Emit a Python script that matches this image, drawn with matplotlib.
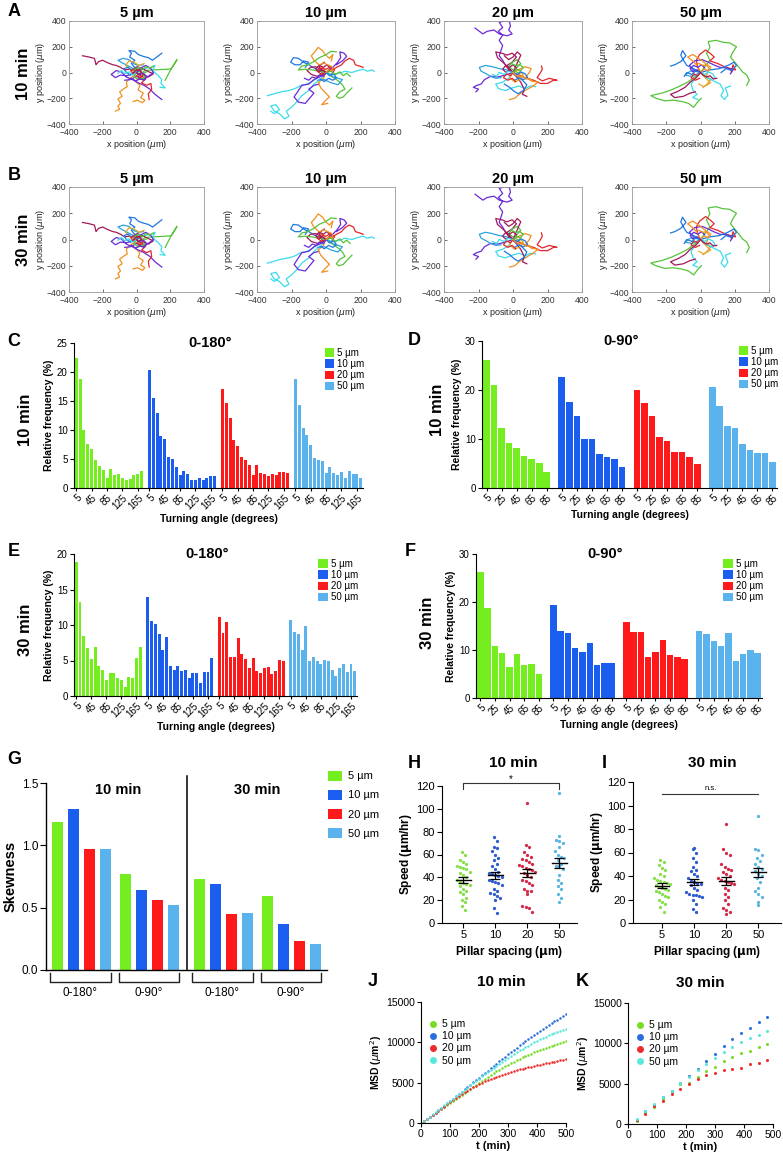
import numpy as np
import matplotlib
matplotlib.use("Agg")
import matplotlib.pyplot as plt
from matplotlib.patches import Patch
from matplotlib.lines import Line2D
import matplotlib.transforms as mtrans

plt.rcParams['font.family'] = ['Liberation Sans', 'DejaVu Sans']
plt.rcParams['axes.linewidth'] = 0.8

W, H = 783, 1156
fig = plt.figure(figsize=(W / 100, H / 100), dpi=100)

# ---------------- data ----------------
spacings = ['5 µm', '10 µm', '20 µm', '50 µm']
bar_cols = ['#74ee1f', '#1a5def', '#fe1a1a', '#5ab3ec']

# trajectories (µm), each track starts at origin
c_mar, c_blu, c_grn, c_org, c_pur, c_cya, c_red, c_gld, c_sky = (
    '#a3195b', '#1f77e0', '#55c43a', '#f0901e', '#6a2bd9', '#3adceb', '#e3262a', '#e0a82e', '#2aa4de')

tracks_5 = [
    [(0,0),(-20,15),(-45,25),(-70,20),(-95,40),(-120,55),(-140,60),(-170,75),(-200,95),(-225,85),(-240,60),(-245,90),(-250,110),(-280,120),(-320,130)],
    [(0,0),(10,25),(-15,45),(-30,70),(-10,95),(-40,120),(-30,150),(-45,170),(-10,165),(10,140),(40,125),(70,115),(95,95),(125,125),(150,150)],
    [(0,0),(25,-10),(50,15),(90,20),(130,22),(170,25),(205,28),(240,100),(222,60),(205,28),(190,-10),(170,-60)],
    [(0,0),(-15,-25),(-40,-45),(-60,-75),(-55,-110),(-80,-130),(-100,-150),(-85,-185),(-110,-205),(-95,-240),(-110,-260),(-100,-285),(-125,-300)],
    [(0,0),(15,-35),(-5,-70),(20,-100),(10,-135),(40,-160),(25,-195),(50,-215),(35,-235),(5,-215),(-20,-225)],
    [(0,0),(-30,-15),(-60,-25),(-95,-20),(-125,-40),(-150,-15),(-120,15),(-90,5),(-60,-35),(-25,-55),(10,-80),(45,-100),(80,-130),(110,-170),(150,-210)],
    [(0,0),(30,20),(60,35),(90,40),(110,55),(95,15),(125,-20),(150,-55),(145,-85),(170,-120),(140,-115)],
    [(0,0),(25,-25),(55,-50),(30,-80),(60,-100),(85,-85),(90,-130),(70,-165),(75,-210)],
    [(0,0),(-25,25),(5,45),(35,30),(65,10),(100,-10),(70,-35),(40,-20),(15,-45)],
    [(0,0),(-25,35),(-55,55),(-85,75),(-110,95),(-80,110),(-45,100),(-20,70),(10,55),(40,60)],
    [(0,0),(25,35),(55,55),(85,30),(100,0),(75,-25),(40,-55),(0,-30),(-35,-55),(-70,-60)],
    [(0,0),(-35,20),(-65,55),(-45,90),(-15,80),(15,55),(45,70)],
    [(0,0),(-15,-35),(15,-55),(50,-40),(35,-10),(60,5)],
    [(0,0),(20,20),(-5,35),(-30,20),(-50,40),(-75,30),(-60,0),(-35,-20),(-10,5)],
    [(0,0),(-20,-10),(-35,15),(-10,30),(20,10),(40,-15),(25,-40),(0,-25)],
    [(0,0),(15,-20),(40,-5),(60,-30),(45,-60),(20,-50),(-5,-65),(-30,-45)],
    [(0,0),(-10,25),(15,40),(35,20),(55,45),(80,35),(100,50)],
    [(0,0),(-25,-20),(-45,5),(-70,-10),(-90,15),(-110,-5)],
    [(0,0),(10,-15),(30,0),(20,25),(-5,15),(-20,-5)],
]
colors_5 = [c_mar, c_blu, c_grn, c_org, c_org, c_pur, c_cya, c_red, c_mar, c_sky, c_pur, c_gld, c_grn,
            c_blu, c_red, c_pur, c_grn, c_cya, c_mar]

tracks_10 = [
    [(0,0),(-40,-30),(-75,-65),(-110,-90),(-145,-100),(-180,-125),(-215,-140),(-260,-150),(-300,-165),(-340,-180)],
    [(0,0),(40,-15),(80,-5),(110,10),(150,0),(185,15),(215,25),(240,10),(265,20),(280,10)],
    [(0,0),(-30,-50),(-70,-90),(-100,-140),(-140,-180),(-170,-230),(-200,-270),(-230,-300),(-215,-340),(-240,-360),(-270,-320),(-300,-300),(-320,-260),(-290,-250),(-270,-290),(-300,-320),(-320,-300)],
    [(0,0),(-30,-30),(-70,-55),(-100,-90),(-140,-100),(-160,-140),(-185,-190),(-160,-230),(-120,-240),(-95,-200),(-70,-160),(-100,-130),(-70,-100),(-40,-90)],
    [(0,0),(-35,15),(-70,35),(-100,60),(-130,80),(-160,110),(-190,115),(-205,80),(-180,60),(-150,60),(-130,90),(-100,80),(-120,40)],
    [(0,0),(-15,35),(-45,65),(-70,95),(-85,130),(-65,160),(-45,195),(-20,170),(-5,140),(20,110),(40,140),(30,90)],
    [(0,0),(25,15),(55,35),(90,60),(110,90),(135,110),(160,95),(170,60),(195,50),(215,40)],
    [(0,0),(25,-25),(50,-45),(75,-70),(95,-95),(110,-130),(80,-150),(60,-185),(75,-200),(100,-190),(120,-160),(150,-120)],
    [(0,0),(-15,-45),(-45,-80),(-30,-120),(-5,-155),(20,-190),(-5,-220),(-25,-250),(10,-240)],
    [(0,0),(-30,25),(-60,45),(-90,40),(-110,15),(-85,-15),(-50,-30),(-20,-10),(-40,50),(-10,80)],
    [(0,0),(-40,10),(-80,20),(-120,25),(-160,20),(-140,50),(-105,60),(-70,85),(-40,115),(-5,135),(30,165),(60,160)],
    [(0,0),(35,35),(65,75),(85,115),(80,160),(105,150),(120,125),(95,90),(60,60)],
    [(0,0),(45,-35),(95,-55),(70,-95),(30,-80),(-10,-55),(-50,-60)],
    [(0,0),(-20,20),(-45,5),(-60,30),(-40,55),(-15,40),(5,60),(25,35),(10,10)],
    [(0,0),(20,-25),(45,-10),(60,-40),(40,-60),(15,-45),(-10,-70),(-35,-50)],
    [(0,0),(-25,-15),(-50,10),(-30,35),(0,25),(25,45),(50,20),(35,-5)],
    [(0,0),(30,10),(55,-15),(80,5),(100,-25),(120,-5),(140,-30)],
    [(0,0),(-15,-30),(-40,-20),(-55,-45),(-80,-35),(-100,-60),(-125,-45)],
    [(0,0),(15,20),(40,15),(35,45),(10,60),(-15,75),(-35,60)],
]
colors_10 = [c_cya, c_cya, c_cya, c_pur, c_blu, c_org, c_red, c_grn, c_org, c_mar, c_grn, c_pur, c_sky,
             c_mar, c_blu, c_red, c_grn, c_pur, c_org]

tracks_20 = [
    [(0,0),(-20,30),(-45,60),(-60,95),(-80,130),(-70,170),(-60,210),(-80,250),(-60,290),(-85,320),(-60,350),(-80,390),(-50,400),(-20,395),(-15,360),(-25,330),(-5,300),(-35,285),(-80,300),(-110,330),(-150,320),(-175,300),(-195,320),(-220,345)],
    [(0,0),(-45,-20),(-90,-35),(-130,-30),(-165,-55),(-185,-90),(-210,-100),(-230,-115),(-200,-130),(-215,-150)],
    [(0,0),(35,-20),(75,-45),(120,-60),(160,-85),(200,-85),(235,-60),(255,-60),(210,-45),(170,-65),(140,-40),(155,-10),(170,25),(165,50)],
    [(0,0),(-35,20),(-80,30),(-120,45),(-160,55),(-195,40),(-185,10),(-155,-10),(-130,-30),(-100,-45),(-70,-40)],
    [(0,0),(-25,-45),(-60,-75),(-100,-90),(-85,-125),(-45,-140),(-5,-120),(35,-105),(70,-125),(100,-105),(130,-110)],
    [(0,0),(35,25),(70,45),(105,30),(95,0),(75,-35),(105,-65),(145,-75),(110,-110),(70,-140),(35,-170),(10,-200),(-20,-210)],
    [(0,0),(-25,35),(-55,75),(-90,115),(-100,160),(-65,150),(-35,135),(-5,150),(20,120),(-5,80),(-40,50),(-20,15),(15,-25),(45,-75),(65,-130),(55,-170),(80,-185)],
    [(0,0),(20,35),(45,70),(25,100),(-5,80),(-25,45),(5,15),(40,-10)],
    [(0,0),(25,-30),(55,-60),(80,-95),(65,-135),(30,-165),(5,-145),(-20,-115),(-50,-90)],
    [(0,0),(25,75),(45,135),(25,160),(0,120),(-25,100),(-50,130)],
    [(0,0),(-20,-40),(10,-75),(40,-55),(60,-20),(30,20)],
    [(0,0),(-20,20),(-40,0),(-60,25),(-45,50),(-20,40),(0,60),(20,35)],
    [(0,0),(25,-15),(45,5),(70,-10),(85,-40),(60,-55),(35,-40),(10,-60)],
    [(0,0),(-15,-25),(-40,-10),(-55,-40),(-30,-60),(-5,-45),(15,-70)],
    [(0,0),(20,25),(45,15),(60,40),(40,60),(15,55),(-10,70)],
    [(0,0),(-30,10),(-50,-15),(-80,0),(-95,-30),(-120,-15)],
    [(0,0),(15,-20),(35,-35),(55,-25),(75,-50),(95,-45),(115,-70)],
]
colors_20 = [c_pur, c_pur, c_red, c_sky, c_cya, c_org, c_mar, c_grn, c_blu, c_mar, c_gld,
             c_mar, c_blu, c_red, c_grn, c_cya, c_org]

tracks_50 = [
    [(0,0),(-35,-35),(-75,-75),(-120,-105),(-170,-135),(-225,-160),(-260,-170),(-290,-180),(-260,-200),(-210,-220),(-160,-215),(-110,-225),(-70,-240),(-40,-270),(-20,-235),(5,-200)],
    [(0,0),(25,45),(55,95),(35,150),(55,195),(45,240),(90,250),(130,235),(170,230),(210,200),(190,160),(175,120),(200,80),(225,40),(245,5),(270,-20),(285,-60),(270,-100)],
    [(0,0),(35,-35),(75,-65),(115,-90),(135,-140),(120,-180),(140,-210),(160,-175),(145,-120),(175,-105)],
    [(0,0),(-30,-45),(-55,-90),(-45,-135),(-20,-170),(-45,-195),(-15,-210)],
    [(0,0),(-15,40),(-25,95),(-5,140),(30,175),(60,145),(80,120),(55,90),(100,70),(140,45),(175,30),(205,20),(190,60),(180,5)],
    [(0,0),(-25,-40),(-60,-75),(-90,-115),(-130,-145),(-175,-170),(-150,-195),(-100,-185),(-60,-160),(-30,-150)],
    [(0,0),(-40,20),(-65,55),(-35,90),(10,100),(45,80),(85,55),(115,40),(155,35),(190,20),(175,-10)],
    [(0,0),(-40,30),(-80,55),(-100,95),(-115,135),(-105,170),(-85,130),(-115,85),(-150,60),(-175,50)],
    [(0,0),(55,20),(110,30),(160,55),(195,80),(210,55),(180,15),(150,30),(120,0)],
    [(0,0),(-20,55),(-50,95),(-75,120),(-45,140),(-10,110),(25,75),(50,30),(35,-25),(60,-55),(35,-95),(15,-115)],
    [(0,0),(30,-45),(60,-80),(20,-110),(-10,-90)],
    [(0,0),(-50,-30),(-90,-20),(-60,10),(-20,20)],
    [(0,0),(-20,20),(-45,5),(-60,30),(-40,55),(-15,40),(5,60),(25,35)],
    [(0,0),(25,-15),(45,5),(70,-10),(85,-40),(60,-55),(35,-40)],
    [(0,0),(-15,-25),(-40,-10),(-55,-40),(-30,-60),(-5,-45)],
    [(0,0),(20,25),(45,15),(60,40),(40,60),(15,55),(-10,70)],
    [(0,0),(-30,10),(-50,-15),(-80,0),(-95,-30)],
    [(0,0),(15,-20),(35,-35),(55,-25),(75,-50),(95,-45)],
]
colors_50 = [c_grn, c_grn, c_cya, c_cya, c_red, c_mar, c_pur, c_blu, c_blu, c_org, c_gld, c_sky,
             c_pur, c_cya, c_red, c_org, c_blu, c_mar]

# turning-angle histograms (% relative frequency)
ang180_labels = ['5', '45', '85', '125', '165']
ang90_labels = ['5', '25', '45', '65', '85']
c10_180 = [
    [22.4, 18.8, 10.0, 7.6, 6.8, 4.9, 3.8, 3.1, 1.8, 3.2, 2.2, 2.4, 1.8, 1.4, 1.6, 2.2, 2.4, 2.9],
    [20.3, 15.6, 13.0, 8.9, 8.4, 5.4, 5.0, 3.6, 2.2, 3.0, 2.4, 1.4, 1.4, 1.8, 1.3, 1.7, 2.1, 2.0],
    [17.0, 14.6, 12.1, 8.3, 7.3, 5.3, 4.9, 3.9, 2.3, 4.0, 2.6, 2.4, 2.1, 2.4, 2.2, 2.7, 2.8, 2.6],
    [18.8, 14.3, 10.3, 9.2, 7.4, 5.1, 4.9, 4.6, 2.6, 3.6, 2.6, 2.2, 2.8, 1.7, 2.9, 2.5, 2.5, 1.8],
]
d10_90 = [
    [26.1, 21.0, 12.2, 9.2, 8.1, 6.6, 6.0, 5.1, 3.3],
    [22.6, 17.5, 14.7, 10.0, 10.0, 6.9, 6.4, 5.9, 4.2],
    [19.9, 17.4, 14.7, 10.5, 9.5, 7.3, 7.3, 6.4, 4.9],
    [20.7, 16.7, 12.7, 12.2, 9.0, 7.8, 7.1, 7.1, 5.3],
]
e30_180 = [
    [18.9, 13.2, 8.4, 6.7, 5.2, 6.9, 4.2, 3.7, 2.3, 3.3, 3.3, 2.6, 2.2, 1.2, 2.7, 2.5, 5.4, 6.9],
    [13.9, 10.5, 10.2, 8.7, 6.5, 8.3, 4.2, 3.7, 4.2, 3.5, 3.6, 2.5, 3.3, 3.3, 1.8, 3.4, 3.4, 5.4],
    [11.1, 8.9, 10.4, 5.5, 5.5, 8.2, 5.9, 5.2, 3.9, 5.3, 3.5, 3.2, 4.0, 4.1, 3.1, 3.5, 5.1, 4.9],
    [10.7, 9.0, 8.7, 6.5, 9.8, 5.0, 5.5, 5.0, 4.5, 5.1, 5.0, 3.7, 2.8, 4.0, 4.5, 3.4, 4.5, 3.5],
]
f30_90 = [
    [26.3, 18.7, 10.9, 9.4, 6.5, 9.1, 6.8, 7.0, 5.0],
    [19.4, 13.9, 13.6, 10.5, 9.6, 11.4, 6.8, 7.3, 7.2],
    [15.9, 13.8, 13.7, 8.5, 9.5, 12.1, 8.9, 8.5, 8.2],
    [14.0, 13.4, 11.9, 10.9, 13.6, 7.7, 9.1, 9.9, 9.4],
]

# skewness
skew_groups = ['0-180°', '0-90°', '0-180°', '0-90°']
skewness = [
    [1.19, 1.29, 0.97, 0.97],
    [0.77, 0.64, 0.56, 0.52],
    [0.73, 0.69, 0.45, 0.455],
    [0.59, 0.37, 0.23, 0.21],
]

# speeds (µm/hr)
spacing_ticks = ['5', '10', '20', '50']
dot_cols = ['#86e04a', '#2c5ccf', '#d42a48', '#5cb4e0']
speed_10 = [
    [62, 60, 55, 53, 52, 50, 49, 48, 47, 45, 44, 42, 40, 38, 36, 35, 34, 33, 32, 30, 28, 27, 25, 22, 20, 18, 15, 11],
    [75, 72, 67, 66, 63, 60, 57, 55, 52, 50, 47, 45, 44, 43, 42, 41, 40, 38, 37, 36, 35, 33, 30, 28, 26, 25, 24, 22, 20, 13, 9],
    [105, 68, 67, 62, 60, 58, 56, 55, 53, 52, 51, 50, 48, 47, 46, 45, 44, 42, 40, 38, 37, 35, 33, 30, 28, 28, 25, 15, 14, 13, 10],
    [114, 76, 73, 72, 70, 67, 63, 60, 58, 57, 55, 52, 50, 50, 47, 42, 38, 35, 32, 30, 25, 22, 18],
]
speed_30 = [
    [54, 52, 49, 47, 45, 42, 40, 38, 37, 36, 35, 34, 33, 32, 31, 30, 29, 28, 27, 26, 25, 23, 22, 20, 18, 16, 14, 9],
    [64, 63, 60, 55, 52, 48, 45, 44, 42, 40, 38, 36, 35, 34, 33, 32, 30, 28, 26, 25, 24, 24, 23, 22, 20, 16, 12, 9],
    [84, 63, 60, 58, 50, 48, 46, 45, 43, 42, 40, 38, 37, 36, 35, 34, 33, 30, 28, 25, 22, 20, 16, 13, 11, 9, 8],
    [91, 63, 62, 58, 55, 53, 50, 48, 46, 44, 42, 40, 38, 35, 30, 27, 25, 22, 18, 15],
]

# MSD (µm^2)
msd_cols = ['#76dc24', '#2a6ede', '#ee2a2a', '#5ae8dc']
t10 = list(range(0, 501, 10))
msd_10 = [
    [0, 210, 460, 710, 960, 1210, 1460, 1710, 1960, 2210, 2460, 2710, 2960, 3210, 3460, 3710, 3960, 4210, 4460, 4720, 4980,
     5230, 5480, 5720, 5960, 6190, 6410, 6630, 6840, 7040, 7230, 7420, 7600, 7780, 7950, 8120, 8280, 8440, 8600, 8750, 8900,
     9050, 9190, 9320, 9450, 9570, 9690, 9800, 9910, 10010, 10110],
    [0, 200, 450, 720, 1000, 1280, 1560, 1840, 2130, 2420, 2710, 3000, 3290, 3580, 3870, 4160, 4450, 4740, 5030, 5320, 5610,
     5900, 6190, 6480, 6770, 7060, 7350, 7640, 7920, 8210, 8500, 8790, 9070, 9350, 9630, 9900, 10170, 10440, 10700, 10950, 11200,
     11450, 11690, 11930, 12160, 12390, 12610, 12830, 13050, 13270, 13490],
    [0, 220, 480, 740, 1000, 1260, 1520, 1780, 2040, 2300, 2560, 2820, 3070, 3320, 3560, 3790, 4010, 4220, 4420, 4610, 4800,
     4980, 5150, 5310, 5460, 5600, 5730, 5860, 5990, 6110, 6230, 6340, 6440, 6540, 6640, 6730, 6820, 6910, 7000, 7080, 7160,
     7240, 7320, 7400, 7480, 7550, 7620, 7690, 7760, 7830, 7900],
    [0, 240, 510, 790, 1070, 1350, 1630, 1910, 2190, 2470, 2750, 3030, 3310, 3580, 3850, 4120, 4400, 4680, 4950, 5220, 5500,
     5770, 6040, 6310, 6580, 6850, 7110, 7370, 7620, 7860, 8100, 8330, 8560, 8780, 9000, 9200, 9400, 9600, 9800, 10000, 10200,
     10370, 10540, 10700, 10850, 11000, 11130, 11260, 11380, 11490, 11600],
]
t30 = list(range(30, 481, 30))
msd_30 = [
    [410, 1320, 2140, 3090, 4000, 4940, 5110, 5850, 6590, 7090, 7790, 8320, 8820, 9060, 9560, 9970],
    [500, 1570, 2390, 3300, 4120, 5030, 5975, 6880, 7830, 8735, 9640, 10550, 11250, 11950, 12650, 13270],
    [490, 1240, 2220, 2880, 3670, 4370, 4940, 5520, 6015, 6345, 6670, 6840, 7000, 7380, 7620, 7910],
    [580, 1600, 2470, 3380, 4120, 5030, 5850, 6670, 7500, 8240, 8900, 9560, 10140, 10710, 11080, 11540],
]


# ---------------- helpers ----------------
def box(l, t, r, b):
    return fig.add_axes([l / W, 1 - b / H, (r - l) / W, (b - t) / H])


def ftext(x, y, s, **kw):
    fig.text(x / W, 1 - y / H, s, ha='center', va='center', **kw)


def traj_panel(ax, tracks, cols, title):
    for tr, c in zip(tracks, cols):
        xy = np.array(tr)
        ax.plot(xy[:, 0], xy[:, 1], color=c, lw=0.9)
    ax.set_xlim(-400, 400)
    ax.set_ylim(-400, 400)
    ax.set_xticks([-400, -200, 0, 200, 400])
    ax.set_yticks([-400, -200, 0, 200, 400])
    ax.tick_params(labelsize=6.2, direction='in', length=2.5, width=0.5, colors='#333333')
    ax.tick_params(axis='x', pad=3)
    ax.tick_params(axis='y', pad=2)
    for s in ax.spines.values():
        s.set_color('#999999')
        s.set_linewidth(0.6)
    ax.set_xlabel(r'x position ($\mu$m)', fontsize=6.5, labelpad=0.3, color='#222222')
    ax.set_ylabel(r'y position ($\mu$m)', fontsize=6.5, labelpad=0, color='#222222')
    ax.set_title(title, fontsize=10.5, fontweight='bold', pad=3)


def prism(ax):
    ax.spines['top'].set_visible(False)
    ax.spines['right'].set_visible(False)
    ax.tick_params(direction='out', width=0.8, length=3, labelsize=7, pad=1.5)


def hist_panel(ax, data, labels, step, ymax, yticks, title, title_x, bw):
    n = len(data[0])
    gap = n + 1
    tick_pos, tick_lab = [], []
    for g, vals in enumerate(data):
        pos = g * gap + np.arange(n)
        ax.bar(pos, vals, width=bw, color=bar_cols[g], edgecolor='none', label=spacings[g])
        tick_pos += list(pos[::step])
        tick_lab += labels
    ax.set_xlim(-0.6, gap * 4 - 1.4)
    ax.set_ylim(0, ymax)
    ax.set_yticks(yticks)
    ax.set_xticks(tick_pos)
    ax.set_xticklabels(tick_lab, rotation=45, ha='right', rotation_mode='anchor', fontsize=6.3)
    prism(ax)
    ax.tick_params(axis='x', length=2.5, pad=1)
    ax.set_ylabel('Relative frequency (%)', fontsize=7.5, fontweight='bold', labelpad=2)
    ax.set_xlabel('Turning angle (degrees)', fontsize=7.5, fontweight='bold', labelpad=2)
    ax.text(title_x, 1.0, title, transform=ax.transAxes, fontsize=10.5, fontweight='bold',
            ha='center', va='center')
    ax.legend(loc='upper right', bbox_to_anchor=(1.02, 1.0), frameon=False, fontsize=7,
              handlelength=1.0, handleheight=1.0, handletextpad=0.25, labelspacing=0.12, borderpad=0)


# ---------------- A / B trajectories ----------------
xs = [(69, 204), (257, 395), (444, 582), (632, 769)]
all_tracks = [tracks_5, tracks_10, tracks_20, tracks_50]
all_cols = [colors_5, colors_10, colors_20, colors_50]
for (t, b) in [(21, 124), (187, 292)]:
    for (l, r), trs, cs, lab in zip(xs, all_tracks, all_cols, spacings):
        traj_panel(box(l, t, r, b), trs, cs, lab)

ftext(14, 12, 'A', fontsize=13, fontweight='bold')
ftext(14, 176, 'B', fontsize=13, fontweight='bold')
ftext(24, 74, '10 min', fontsize=12, fontweight='bold', rotation=90)
ftext(24, 240, '30 min', fontsize=12, fontweight='bold', rotation=90)

# ---------------- C-F histograms ----------------
axC = box(74, 343, 363, 488)
hist_panel(axC, c10_180, ang180_labels, 4, 25, [0, 5, 10, 15, 20, 25], '0-180°', 0.47, 0.78)
axD = box(482, 341, 777, 488)
hist_panel(axD, d10_90, ang90_labels, 2, 30, [0, 10, 20, 30], '0-90°', 0.47, 0.88)
axE = box(74, 554, 357, 696)
hist_panel(axE, e30_180, ang180_labels, 4, 20, [0, 5, 10, 15, 20], '0-180°', 0.47, 0.78)
axF = box(476, 554, 762, 698)
hist_panel(axF, f30_90, ang90_labels, 2, 30, [0, 10, 20, 30], '0-90°', 0.45, 0.88)

ftext(14, 342, 'C', fontsize=13, fontweight='bold')
ftext(414, 340, 'D', fontsize=13, fontweight='bold')
ftext(14, 552, 'E', fontsize=13, fontweight='bold')
ftext(410, 552, 'F', fontsize=13, fontweight='bold')
ftext(25, 420, '10 min', fontsize=12, fontweight='bold', rotation=90)
ftext(438, 410, '10 min', fontsize=12, fontweight='bold', rotation=90)
ftext(25, 630, '30 min', fontsize=12, fontweight='bold', rotation=90)
ftext(428, 623, '30 min', fontsize=12, fontweight='bold', rotation=90)

# ---------------- G skewness ----------------
axG = box(46, 783, 327, 970)
starts = [0, 4.3, 8.9, 13.2]
for gi, (st, vals) in enumerate(zip(starts, skewness)):
    for k, v in enumerate(vals):
        axG.bar(st + k, v, width=0.68, color=bar_cols[k], edgecolor='none')
axG.set_xlim(-0.7, 16.9)
axG.set_ylim(0, 1.5)
axG.set_yticks([0, 0.5, 1.0, 1.5])
axG.set_yticklabels(['0.0', '0.5', '1.0', '1.5'])
axG.set_xticks([])
prism(axG)
axG.tick_params(labelsize=8.5, length=4)
axG.spines['left'].set_linewidth(1.0)
axG.spines['bottom'].set_linewidth(1.0)
axG.set_ylabel('Skewness', fontsize=10.5, fontweight='bold', labelpad=3)
axG.plot([8.1, 8.1], [0, 1.556], color='black', lw=1.1, clip_on=False)
trG = mtrans.blended_transform_factory(axG.transData, axG.transAxes)
for st, lab in zip(starts, skew_groups):
    x0, x1 = st - 0.45, st + 3.35
    axG.plot([x0, x0, x1, x1], [-0.018, -0.066, -0.066, -0.018], color='#222222', lw=1.0,
             transform=trG, clip_on=False)
    axG.text((x0 + x1) / 2, -0.125, lab, transform=trG, ha='center', va='center', fontsize=8.5)
axG.text(3.8, 0.96, '10 min', transform=trG, ha='center', va='center', fontsize=10.5, fontweight='bold')
axG.text(12.5, 0.96, '30 min', transform=trG, ha='center', va='center', fontsize=10.5, fontweight='bold')
g_handles = [Patch(facecolor=c, edgecolor='none') for c in bar_cols]
fig.legend(g_handles, spacings, loc='upper left', bbox_to_anchor=(322 / W, 1 - 765 / H), frameon=False,
           fontsize=8, handlelength=1.3, handleheight=1.0, handletextpad=0.5, labelspacing=0.75, borderpad=0)
ftext(14, 760, 'G', fontsize=13, fontweight='bold')


# ---------------- H / I speeds ----------------
def speed_panel(ax, data, xl):
    for i, vals in enumerate(data):
        v = np.array(sorted(vals, reverse=True), dtype=float)
        bins = np.round(v / 6.0)
        offs = np.zeros(len(v))
        for bval in np.unique(bins):
            idx = np.where(bins == bval)[0]
            offs[idx] = (np.arange(len(idx)) - (len(idx) - 1) / 2) * 0.1
        ax.scatter(i + offs, v, s=5.5, color=dot_cols[i], linewidths=0, zorder=2)
        m = v.mean()
        se = v.std(ddof=1) / np.sqrt(len(v))
        ax.plot([i - 0.23, i + 0.23], [m, m], color='black', lw=1.0, zorder=3)
        ax.errorbar(i, m, yerr=se, color='black', lw=0.9, capsize=3.5, capthick=0.9, zorder=3)
    ax.set_xlim(*xl)
    ax.set_ylim(0, 120)
    ax.set_yticks(range(0, 121, 20))
    ax.set_xticks(range(4))
    ax.set_xticklabels(spacing_ticks)
    prism(ax)
    ax.tick_params(labelsize=8, length=3.5)
    ax.set_ylabel(r'Speed ($\mathbf{\mu}$m/hr)', fontsize=8.5, fontweight='bold', labelpad=2)
    ax.set_xlabel(r'Pillar spacing ($\mathbf{\mu}$m)', fontsize=8.5, fontweight='bold', labelpad=3)


axH = box(442, 786, 577, 923)
speed_panel(axH, speed_10, (-0.66, 3.55))
axH.plot([0, 0, 3, 3], [117, 122.5, 122.5, 117], color='#333333', lw=0.8, clip_on=False)
axH.text(1.5, 126, '*', ha='center', va='center', fontsize=7)
axI = box(633, 782, 781, 923)
speed_panel(axI, speed_30, (-0.9, 3.7))
axI.plot([0, 3], [110, 110], color='#333333', lw=0.8, clip_on=False)
axI.text(1.5, 114.5, 'n.s.', ha='center', va='center', fontsize=5.5)
ftext(513, 763, '10 min', fontsize=11, fontweight='bold')
ftext(712, 763, '30 min', fontsize=11, fontweight='bold')
ftext(414, 763, 'H', fontsize=13, fontweight='bold')
ftext(604, 763, 'I', fontsize=13, fontweight='bold')


# ---------------- J / K MSD ----------------
def msd_panel(ax, t, data, ms):
    for vals, c, lab in zip(data, msd_cols, spacings):
        ax.plot(t, vals, ls='none', marker='o', ms=ms, mew=0, color=c, label=lab)
    ax.set_xlim(0, 500)
    ax.set_ylim(0, 15000)
    ax.set_xticks(range(0, 501, 100))
    ax.set_yticks([0, 5000, 10000, 15000])
    prism(ax)
    ax.tick_params(labelsize=7.5, length=3)
    ax.set_xlabel('t (min)', fontsize=8, fontweight='bold', labelpad=1)
    ax.set_ylabel(r'MSD ($\mu$m$^2$)', fontsize=7.5, fontweight='bold', labelpad=1)
    hs = [Line2D([], [], ls='none', marker='o', ms=5, mew=0, color=c) for c in msd_cols]
    ax.legend(hs, spacings, loc='upper left', bbox_to_anchor=(0.02, 0.9), frameon=False, fontsize=7.5,
              handlelength=0.8, handletextpad=0.4, labelspacing=0.2, borderpad=0)


axJ = box(421, 1002, 566, 1123)
msd_panel(axJ, t10, msd_10, 1.8)
axK = box(628, 1003, 773, 1124)
msd_panel(axK, t30, msd_30, 2.2)
ftext(501, 982, '10 min', fontsize=11, fontweight='bold')
ftext(700, 983, '30 min', fontsize=11, fontweight='bold')
ftext(373, 981, 'J', fontsize=13, fontweight='bold')
ftext(582, 982, 'K', fontsize=13, fontweight='bold')

fig.savefig('out.png', dpi=100)
